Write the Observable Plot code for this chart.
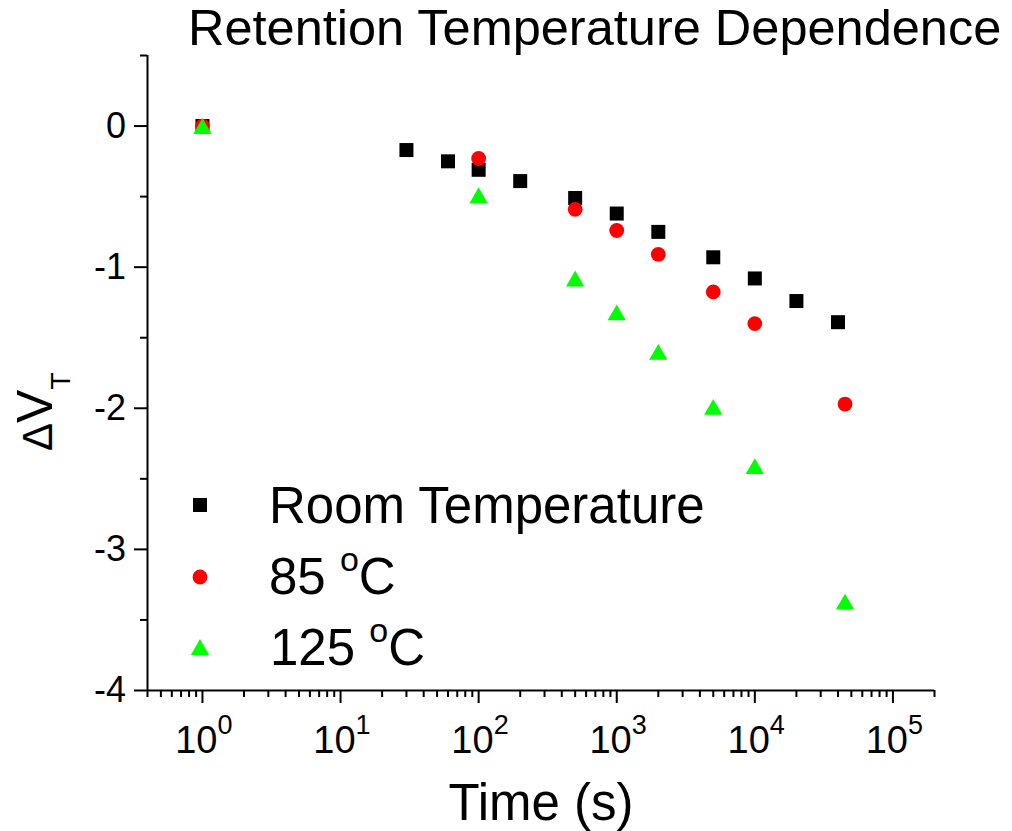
<!DOCTYPE html>
<html>
<head>
<meta charset="utf-8">
<script src="https://cdn.jsdelivr.net/npm/d3@7"></script>
<script src="https://cdn.jsdelivr.net/npm/@observablehq/plot@0.6"></script>
<style>
  html, body { margin: 0; padding: 0; background: #fff; }
  #wrap { position: relative; width: 1012px; height: 831px; overflow: hidden;
          font-family: "Liberation Sans", Arial, sans-serif; color: #000; }
  #title { position: absolute; left: 188px; top: 3px; font-size: 50.5px; line-height: 1; white-space: nowrap; }
  #chart { position: absolute; left: 0; top: 50px; }
  .leg { position: absolute; font-size: 51px; line-height: 1; white-space: nowrap; }
  .leg .sup { font-size: 34px; position: relative; top: -23px; }
  .sw { position: absolute; width: 30px; height: 30px; overflow: visible; }
</style>
</head>
<body>
<div id="wrap">
  <div id="title"></div>
  <div id="chart"></div>
  <div id="legend"></div>
  <svg id="ylab" width="100" height="831" style="position:absolute;left:0;top:0;overflow:visible"></svg>
</div>
<script>
// ---------------- data ----------------
const titleText = "Retention Temperature Dependence";
const xLabelText = ["Time (s)"];

const xDomain = [0.4, 2e5];
const yDomain = [-4, 0.5];

const xMajor = [1, 10, 100, 1000, 10000, 100000];
const xMajorBase = ["10", "10", "10", "10", "10", "10"];
const xMajorExp = ["0", "1", "2", "3", "4", "5"];

const yMajor = [0, -1, -2, -3, -4];
const yMajorLabels = ["0", "-1", "-2", "-3", "-4"];
const yMinor = [0.5, -0.5, -1.5, -2.5, -3.5];

const seriesNames = ["Room Temperature", "85 ", "125 "];
const seriesSup = ["", "o", "o"];
const seriesTail = ["", "C", "C"];
const seriesColors = ["#000000", "#ff0000", "#00ff00"];
const seriesSymbols = ["square", "circle", "triangle"];

const timeRT = [1, 30, 60, 100, 200, 500, 1000, 2000, 5000, 10000, 20000, 40000];
const dvRT   = [0, -0.17, -0.25, -0.31, -0.39, -0.51, -0.62, -0.75, -0.93, -1.08, -1.24, -1.39];

const time85 = [1, 100, 500, 1000, 2000, 5000, 10000, 45000];
const dv85   = [0, -0.23, -0.59, -0.74, -0.91, -1.175, -1.40, -1.97];

const time125 = [1, 100, 500, 1000, 2000, 5000, 10000, 45000];
const dv125   = [0, -0.49, -1.08, -1.32, -1.60, -1.99, -2.41, -3.37];

// ---------------- build ----------------
const rt  = timeRT.map((t, i) => ({t, v: dvRT[i]}));
const c85 = time85.map((t, i) => ({t, v: dv85[i]}));
const c125 = time125.map((t, i) => ({t, v: dv125[i]}));

const xMinor = d3.scaleLog().domain(xDomain).ticks().filter(d => !xMajor.some(m => Math.abs(m - d) < 1e-9));
const xMajorRows = xMajor.map((x, i) => ({x, base: xMajorBase[i], exp: xMajorExp[i]}));
const yMajorRows = yMajor.map((y, i) => ({y, label: yMajorLabels[i]}));

const font = "'Liberation Sans', Arial, sans-serif";
const rSquare = 7.9, rCircle = 7.4, rTri = 6.8;
const triK = Math.sqrt(Math.PI * rTri * rTri / (3 * Math.sqrt(3)));

document.getElementById("title").textContent = titleText;

const chart = Plot.plot({
  width: 1012,
  height: 781,
  marginLeft: 147,
  marginRight: 78,
  marginTop: 5,
  marginBottom: 141,
  style: {fontFamily: font, background: "transparent", overflow: "visible"},
  x: {type: "log", domain: xDomain, label: null},
  y: {domain: yDomain, label: null},
  marks: [
    // axis lines
    Plot.ruleY([yDomain[0]], {stroke: "#000", strokeWidth: 2}),
    Plot.ruleX([xDomain[0]], {stroke: "#000", strokeWidth: 2}),
    // x ticks
    Plot.axisX(xMajor, {anchor: "bottom", tickSize: 13, strokeWidth: 2, tickFormat: () => "", label: null}),
    Plot.axisX(xMinor, {anchor: "bottom", tickSize: 7, strokeWidth: 2, tickFormat: () => "", label: null}),
    // y ticks
    Plot.axisY(yMajor, {anchor: "left", tickSize: 13, strokeWidth: 2, tickFormat: () => "", label: null}),
    Plot.axisY(yMinor, {anchor: "left", tickSize: 7, strokeWidth: 2, tickFormat: () => "", label: null}),
    // x tick labels 10^n
    Plot.text(xMajorRows, {x: "x", text: "base", frameAnchor: "bottom", textAnchor: "end", lineAnchor: "bottom",
      dx: 15, dy: 62, fontSize: 38, fill: "#000"}),
    Plot.text(xMajorRows, {x: "x", text: "exp", frameAnchor: "bottom", textAnchor: "start", lineAnchor: "bottom",
      dx: 15, dy: 43, fontSize: 27, fill: "#000"}),
    // y tick labels
    Plot.text(yMajorRows, {y: "y", text: "label", frameAnchor: "left", textAnchor: "end", lineAnchor: "middle",
      dx: -21.5, fontSize: 36, fill: "#000"}),
    // x axis title
    Plot.text(xLabelText, {text: d => d, frameAnchor: "bottom", lineAnchor: "bottom", dy: 129, fontSize: 51, fill: "#000"}),
    // data
    Plot.dot(rt, {x: "t", y: "v", symbol: "square", r: rSquare, fill: seriesColors[0], stroke: null}),
    Plot.dot(c85, {x: "t", y: "v", symbol: "circle", r: rCircle, fill: seriesColors[1], stroke: null}),
    Plot.dot(c125, {x: "t", y: "v", symbol: "triangle", r: rTri, fill: seriesColors[2], stroke: null, dy: triK / 2})
  ]
});
document.getElementById("chart").appendChild(chart);

// legend (HTML overlay inside plot area)
const legend = document.getElementById("legend");
const legBaselines = [523, 594, 665];
const legSymCenters = [505, 577, 646.5];
const legLefts = [269, 269, 270];
const legAsc = (51 - 1.117 * 51) / 2 + 0.905 * 51;
const symMap = {square: d3.symbolSquare, circle: d3.symbolCircle, triangle: d3.symbolTriangle};
const symR = {square: rSquare, circle: rCircle, triangle: rTri};
seriesNames.forEach((name, i) => {
  const row = document.createElement("div");
  row.className = "leg";
  row.style.left = legLefts[i] + "px";
  row.style.top = (legBaselines[i] - legAsc) + "px";
  row.appendChild(document.createTextNode(name));
  if (seriesSup[i]) {
    const s = document.createElement("span");
    s.className = "sup";
    s.textContent = seriesSup[i];
    row.appendChild(s);
    row.appendChild(document.createTextNode(seriesTail[i]));
  }
  legend.appendChild(row);

  const sym = seriesSymbols[i];
  const svg = d3.select(legend).append("svg").attr("class", "sw")
    .attr("width", 30).attr("height", 30)
    .style("left", (200 - 15) + "px")
    .style("top", (legSymCenters[i] - 15) + "px");
  const r = symR[sym];
  const off = sym === "triangle" ? triK / 2 : 0;
  svg.append("path")
    .attr("transform", `translate(15,${15 + off})`)
    .attr("d", d3.symbol(symMap[sym], Math.PI * r * r)())
    .attr("fill", seriesColors[i]);
});

// y axis title: ΔV with subscript T
const ylab = d3.select("#ylab").append("text")
  .attr("transform", "translate(52,451) rotate(-90)")
  .attr("font-family", font)
  .attr("fill", "#000");
ylab.append("tspan").attr("font-size", 42).text("Δ");
ylab.append("tspan").attr("font-size", 50).text("V");
ylab.append("tspan").attr("font-size", 28).attr("dy", 18).text("T");
</script>
</body>
</html>
